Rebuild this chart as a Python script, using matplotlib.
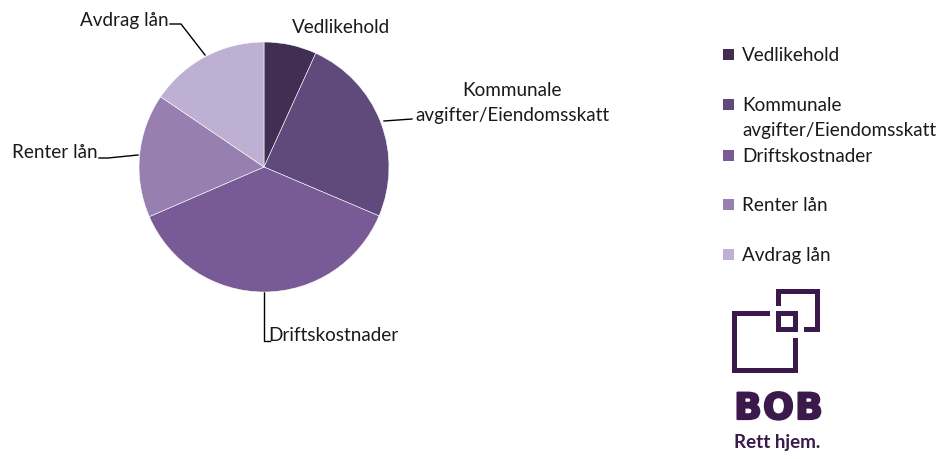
import matplotlib
matplotlib.use("Agg")
import matplotlib.pyplot as plt
import matplotlib.patheffects as pe
from matplotlib.patches import Rectangle

categories = ["Vedlikehold", "Kommunale\navgifter/Eiendomsskatt", "Driftskostnader", "Renter lån", "Avdrag lån"]
values = [6.8, 24.6, 37.1, 16.0, 15.5]
colors = ["#402F53", "#5F4A7B", "#775A96", "#9780B0", "#BEB0D2"]

W, H = 941, 459
plt.rcParams['font.family'] = ['Lato', 'DejaVu Sans']
fig = plt.figure(figsize=(W / 100, H / 100), dpi=100)

# overlay axes in pixel coordinates (for labels, leaders, legend, logo)
ov = fig.add_axes([0, 0, 1, 1])
ov.set_xlim(0, W)
ov.set_ylim(H, 0)
ov.axis("off")

# pie axes: centre (264,167), radius 125 px
cx, cy, r = 264, 167, 125
pax = fig.add_axes([(cx - r) / W, (H - cy - r) / H, 2 * r / W, 2 * r / H])
pax.pie(values, colors=colors, startangle=90, counterclock=False,
        wedgeprops=dict(edgecolor="white", linewidth=0.4), radius=1)
pax.set_xlim(-1, 1)
pax.set_ylim(-1, 1)
pax.set_aspect("equal")
pax.axis("off")

fs = 13.6
tc = "#1a1a1a"
# data labels
ov.text(292, 33, categories[0], fontsize=fs, color=tc, va="baseline", ha="left")
ov.text(512, 96, "Kommunale", fontsize=fs, color=tc, va="baseline", ha="center")
ov.text(512, 121, "avgifter/Eiendomsskatt", fontsize=fs, color=tc, va="baseline", ha="center")
ov.text(268, 341, categories[2], fontsize=fs, color=tc, va="baseline", ha="left")
ov.text(12, 158, categories[3], fontsize=fs, color=tc, va="baseline", ha="left")
ov.text(80, 26, categories[4], fontsize=fs, color=tc, va="baseline", ha="left")

lk = dict(color="black", lw=1.0)
ov.plot([384, 412], [121, 119], **lk)           # Kommunale
ov.plot([264, 264, 270], [292, 341, 341], **lk)  # Drift
ov.plot([99, 108, 138], [158, 158, 155], **lk)   # Renter
ov.plot([170, 181, 205], [24, 24, 55], **lk)     # Avdrag

# legend
leg_y = [55, 105, 156, 205, 255]
for lab, col, y in zip(categories, colors, leg_y):
    ov.add_patch(Rectangle((723, y - 6), 11, 11, color=col, lw=0))
    lines = lab.split("\n")
    for i, ln in enumerate(lines):
        ov.text(742, y + 6 + i * 25, ln, fontsize=fs, color=tc, va="baseline", ha="left")

# logo
lc = "#3B1A4B"
def bar(x0, y0, x1, y1):
    ov.add_patch(Rectangle((x0, y0), x1 - x0, y1 - y0, color=lc, lw=0))

# big square (gap top-right)
bar(732, 311, 737, 373)
bar(732, 311, 770, 316)
bar(732, 368, 798, 373)
bar(793, 338, 798, 373)
# small square
bar(776, 311, 798, 316)
bar(776, 327, 798, 332)
bar(776, 311, 781, 332)
bar(793, 311, 798, 332)
# top-right square (gap bottom-left)
bar(776, 289, 820, 294)
bar(776, 289, 781, 306)
bar(815, 289, 820, 332)
bar(804, 327, 820, 332)

for ch, x in zip("BOB", [748, 778.5, 809]):
    ov.text(x, 419, ch, fontsize=26, fontweight="bold", color=lc, ha="center", va="baseline",
            family=["DejaVu Sans"],
            path_effects=[pe.withStroke(linewidth=1.6, foreground=lc)])
ov.text(777, 448, "Rett hjem.", fontsize=13.5, fontweight="bold", color=lc, ha="center", va="baseline",
        family=["Lato", "DejaVu Sans"])

fig.savefig("out.png", dpi=100)
